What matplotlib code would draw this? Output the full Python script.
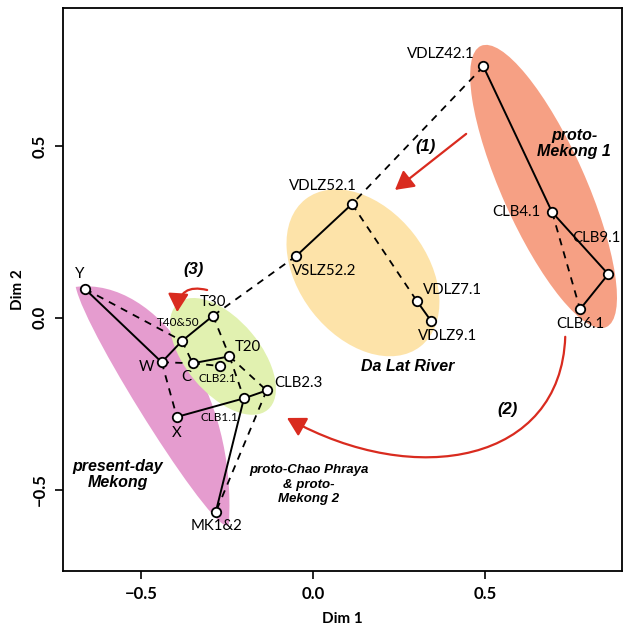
import numpy as np
import matplotlib.pyplot as plt
from matplotlib.patches import Ellipse, PathPatch, FancyArrowPatch
from matplotlib.path import Path

# sample coordinates (Dim 1, Dim 2)
names = ["VDLZ42.1", "CLB4.1", "CLB9.1", "CLB6.1",
         "VDLZ52.1", "VSLZ52.2", "VDLZ7.1", "VDLZ9.1",
         "Y", "T30", "T40&50", "W", "C", "T20", "CLB2.1", "CLB2.3",
         "CLB1.1", "X", "MK1&2"]
dim1 = [0.495, 0.695, 0.858, 0.776,
        0.113, -0.049, 0.301, 0.343,
        -0.663, -0.291, -0.381, -0.440, -0.350, -0.243, -0.270, -0.135,
        -0.201, -0.396, -0.283]
dim2 = [0.731, 0.307, 0.127, 0.025,
        0.331, 0.180, 0.050, -0.009,
        0.084, 0.006, -0.067, -0.129, -0.132, -0.112, -0.140, -0.211,
        -0.234, -0.288, -0.565]

solid_links = [("VDLZ42.1", "CLB4.1"), ("CLB4.1", "CLB9.1"), ("CLB9.1", "CLB6.1"),
               ("VDLZ52.1", "VSLZ52.2"), ("VDLZ7.1", "VDLZ9.1"),
               ("Y", "W"), ("W", "T40&50"), ("T40&50", "T30"), ("C", "T20"),
               ("X", "CLB1.1"), ("CLB1.1", "CLB2.3"), ("CLB1.1", "MK1&2")]
dashed_links = [("CLB4.1", "CLB6.1"), ("VDLZ42.1", "VDLZ52.1"), ("VDLZ52.1", "VDLZ7.1"),
                ("VSLZ52.2", "T30"), ("Y", "T40&50"), ("T40&50", "C"), ("W", "C"),
                ("C", "CLB2.1"), ("W", "X"), ("T30", "T20"), ("T20", "CLB1.1"),
                ("T20", "CLB2.3"), ("CLB2.3", "MK1&2")]

# label offsets in pixels (dx, dy up), alignment, small/condensed
label_pos = {
    "VDLZ42.1": (-9, 12, "right", False), "CLB4.1": (-12, 0, "right", False),
    "CLB9.1": (12, 36, "right", False), "CLB6.1": (0, -15, "center", False),
    "VDLZ52.1": (-29, 18, "center", False), "VSLZ52.2": (-4, -15, "left", False),
    "VDLZ7.1": (6, 11, "left", False), "VDLZ9.1": (-13, -15, "left", False),
    "Y": (-5, 15, "center", False), "T30": (0, 14, "center", False),
    "T40&50": (-4, 18, "center", True), "W": (-15, -5, "center", False),
    "C": (-6, -14, "center", False), "T20": (18, 9, "center", False),
    "CLB2.1": (-3, -12, "center", True), "CLB2.3": (8, 7, "left", False),
    "CLB1.1": (-25, -19, "center", True), "X": (0, -16, "center", False),
    "MK1&2": (1, -14, "center", False),
}

pos = {n: (x, y) for n, x, y in zip(names, dim1, dim2)}

fig = plt.figure(figsize=(6.24, 6.29), dpi=100)
ax = fig.add_axes([63 / 624, 1 - 571 / 629, 559 / 624, 563 / 629])
ax.set_xlim(-0.727, 0.898)
ax.set_ylim(-0.736, 0.901)

# group ellipses
ax.add_patch(Ellipse((0.670, 0.382), 0.895, 0.244, angle=-66, fc="#f6a084", ec="none", zorder=1))
ax.add_patch(Ellipse((0.145, 0.131), 0.543, 0.372, angle=-52, fc="#fde3a9", ec="none", zorder=1))

# present-day Mekong: curved banana shape
banana = Path([(-0.69, 0.09), (-0.45, 0.12), (-0.22, -0.22), (-0.245, -0.60),
               (-0.27, -0.66), (-0.66, -0.05), (-0.69, 0.09)],
              [Path.MOVETO, Path.CURVE4, Path.CURVE4, Path.CURVE4,
               Path.CURVE4, Path.CURVE4, Path.CURVE4])
ax.add_patch(PathPatch(banana, fc="#e59ccf", ec="none", zorder=1))
ax.add_patch(Ellipse((-0.262, -0.112), 0.405, 0.215, angle=-50, fc="#e1f1b0", ec="none", zorder=1.5))

for a, b in solid_links:
    ax.plot([pos[a][0], pos[b][0]], [pos[a][1], pos[b][1]], color="black", lw=1.4, zorder=3)
for a, b in dashed_links:
    ax.plot([pos[a][0], pos[b][0]], [pos[a][1], pos[b][1]], color="black", lw=1.3,
            ls=(0, (4, 3.5)), zorder=3)

ax.plot(dim1, dim2, "o", ms=6.8, mfc="white", mec="black", mew=1.3, ls="none", zorder=4)

for n in names:
    dx, dy, ha, small = label_pos[n]
    if small:
        ax.annotate(n, pos[n], xytext=(dx * 0.72, dy * 0.72), textcoords="offset points",
                    ha=ha, va="center", fontsize=8.5, zorder=5, family="Lato")
    else:
        ax.annotate(n, pos[n], xytext=(dx * 0.72, dy * 0.72), textcoords="offset points",
                    ha=ha, va="center", fontsize=10.8, family="Lato", zorder=5)

# red arrows
red = "#d92b1f"
astyle = "-|>,head_length=0.8,head_width=0.45"
ax.add_patch(FancyArrowPatch((0.445, 0.535), (0.238, 0.372), arrowstyle=astyle,
                             mutation_scale=14, color=red, lw=1.6, zorder=6,
                             shrinkA=0, shrinkB=0))
arc2 = Path([(0.733, -0.055), (0.72, -0.42), (0.30, -0.50), (-0.076, -0.291)],
            [Path.MOVETO, Path.CURVE4, Path.CURVE4, Path.CURVE4])
ax.add_patch(FancyArrowPatch(path=arc2, arrowstyle=astyle, mutation_scale=14,
                             color=red, lw=1.6, zorder=6))
ax.add_patch(FancyArrowPatch((-0.308, 0.081), (-0.395, 0.017), arrowstyle=astyle,
                             connectionstyle="arc3,rad=0.6", mutation_scale=14,
                             color=red, lw=1.6, zorder=6, shrinkA=0, shrinkB=0))

# group / step text
gfont = dict(family="Liberation Sans", fontweight="bold", fontstyle="italic", zorder=7)
ax.text(0.759, 0.506, "proto-\nMekong 1", ha="center", va="center", fontsize=11.5,
        linespacing=1.1, **gfont)
ax.text(0.276, -0.140, "Da Lat River", ha="center", va="center", fontsize=11.5, **gfont)
ax.text(-0.567, -0.456, "present-day\nMekong", ha="center", va="center", fontsize=11.5,
        linespacing=1.05, **gfont)
ax.text(-0.012, -0.485, "proto-Chao Phraya\n& proto-\nMekong 2", ha="center", va="center",
        fontsize=9.5, linespacing=1.25, **gfont)
ax.text(0.326, 0.497, "(1)", ha="center", va="center", fontsize=12, **gfont)
ax.text(0.564, -0.267, "(2)", ha="center", va="center", fontsize=12, **gfont)
ax.text(-0.349, 0.140, "(3)", ha="center", va="center", fontsize=12, **gfont)

for s in ax.spines.values():
    s.set_linewidth(1.3)
ax.set_xticks([-0.5, 0.0, 0.5])
ax.set_yticks([-0.5, 0.0, 0.5])
ax.set_xticklabels(["\u22120.5", "0.0", "0.5"], fontweight="bold", family="Lato", fontsize=12)
ax.set_yticklabels(["\u22120.5", "0.0", "0.5"], fontweight="bold", family="Lato", fontsize=12,
                   rotation=90, va="center")
ax.tick_params(direction="out", length=6, width=1.2, pad=5)
ax.set_xlabel("Dim 1", fontweight="bold", family="Lato", fontsize=11, labelpad=7)
ax.set_ylabel("Dim 2", fontweight="bold", family="Lato", fontsize=11, labelpad=5)

fig.savefig("out.png", dpi=100)
